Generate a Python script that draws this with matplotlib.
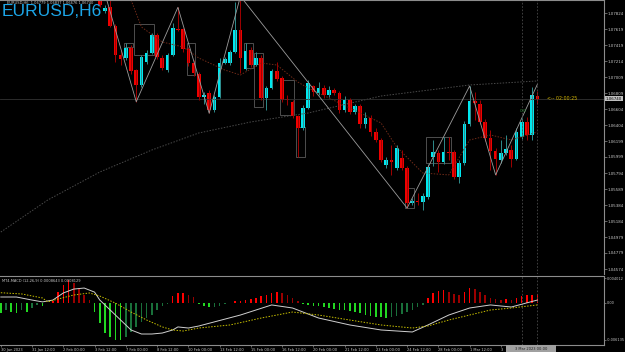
import numpy as np
import matplotlib.pyplot as plt
from matplotlib.patches import Rectangle
import matplotlib.transforms as mtransforms

# ---- data (EURUSD H6) ----
first_bar = 19
opens = [1.08150, 1.07853, 1.07904, 1.07663, 1.07294, 1.07256, 1.07383, 1.07103, 1.06913, 1.07205,
         1.07319, 1.07548, 1.07256, 1.07103, 1.07294, 1.07624, 1.07624, 1.07370, 1.07192, 1.07053,
         1.06761, 1.06811, 1.06595, 1.06761, 1.07192, 1.07192, 1.07332, 1.07612, 1.07116, 1.07358,
         1.07167, 1.07256, 1.06748, 1.06875, 1.07091, 1.07002, 1.06735, 1.06697, 1.06519, 1.06367,
         1.06621, 1.06900, 1.06811, 1.06875, 1.06786, 1.06849, 1.06811, 1.06595, 1.06722, 1.06570,
         1.06646, 1.06417, 1.06493, 1.06316, 1.06214, 1.05897, 1.05960, 1.05858, 1.05985, 1.05858,
         1.05413, 1.05438, 1.05425, 1.05489, 1.05998, 1.06049, 1.05934, 1.06062, 1.06062, 1.05744,
         1.05922, 1.06417, 1.06709, 1.06671, 1.06443, 1.06240, 1.06075, 1.05960, 1.06049, 1.06087,
         1.05973, 1.06252, 1.06443, 1.06278, 1.06779]
highs = [1.08300, 1.07930, 1.08000, 1.07688, 1.07357, 1.07447, 1.07421, 1.07116, 1.07294, 1.07358,
         1.07574, 1.07574, 1.07294, 1.07319, 1.07701, 1.07900, 1.07637, 1.07396, 1.07230, 1.07078,
         1.06824, 1.06849, 1.06786, 1.07256, 1.07269, 1.07358, 1.07970, 1.08040, 1.07447, 1.07396,
         1.07332, 1.07294, 1.06900, 1.07116, 1.07205, 1.07027, 1.06786, 1.06722, 1.06532, 1.06659,
         1.06976, 1.06913, 1.06951, 1.06913, 1.06900, 1.06875, 1.06837, 1.06773, 1.06748, 1.06672,
         1.06672, 1.06570, 1.06532, 1.06367, 1.06240, 1.05998, 1.06151, 1.06151, 1.06087, 1.05883,
         1.05476, 1.05540, 1.05540, 1.05909, 1.06214, 1.06087, 1.06252, 1.06252, 1.06087, 1.05960,
         1.06455, 1.06900, 1.06824, 1.06722, 1.06481, 1.06341, 1.06113, 1.06214, 1.06278, 1.06151,
         1.06367, 1.06494, 1.06506, 1.06888, 1.06837]
lows = [1.07900, 1.07828, 1.07650, 1.07205, 1.07167, 1.07230, 1.07053, 1.06700, 1.06887, 1.07180,
        1.07307, 1.07243, 1.07103, 1.07078, 1.07281, 1.07600, 1.07332, 1.07154, 1.07027, 1.06722,
        1.06672, 1.06553, 1.06570, 1.06748, 1.07180, 1.07167, 1.07320, 1.07065, 1.07103, 1.07142,
        1.07154, 1.06722, 1.06595, 1.06862, 1.06964, 1.06697, 1.06659, 1.06494, 1.05999, 1.06341,
        1.06608, 1.06773, 1.06786, 1.06748, 1.06761, 1.06786, 1.06557, 1.06570, 1.06545, 1.06545,
        1.06367, 1.06367, 1.06265, 1.06189, 1.05935, 1.05858, 1.05770, 1.05833, 1.05833, 1.05349,
        1.05387, 1.05387, 1.05324, 1.05464, 1.05883, 1.05808, 1.05909, 1.05960, 1.05718, 1.05667,
        1.05897, 1.06392, 1.06468, 1.06417, 1.06201, 1.05833, 1.05770, 1.05922, 1.06024, 1.05871,
        1.05960, 1.06227, 1.06214, 1.06214, 1.06676]
closes = [1.07930, 1.07891, 1.07663, 1.07294, 1.07243, 1.07383, 1.07091, 1.06913, 1.07268, 1.07319,
          1.07548, 1.07269, 1.07129, 1.07294, 1.07637, 1.07612, 1.07370, 1.07192, 1.07065, 1.06761,
          1.06786, 1.06595, 1.06761, 1.07192, 1.07243, 1.07332, 1.07612, 1.07256, 1.07345, 1.07167,
          1.07256, 1.06748, 1.06875, 1.07091, 1.06989, 1.06722, 1.06722, 1.06519, 1.06367, 1.06621,
          1.06938, 1.06824, 1.06875, 1.06786, 1.06849, 1.06811, 1.06595, 1.06722, 1.06570, 1.06646,
          1.06417, 1.06493, 1.06316, 1.06214, 1.05960, 1.05960, 1.05935, 1.06113, 1.05858, 1.05413,
          1.05438, 1.05425, 1.05502, 1.05871, 1.06062, 1.05934, 1.06062, 1.06049, 1.05744, 1.05922,
          1.06417, 1.06709, 1.06684, 1.06443, 1.06240, 1.06075, 1.05973, 1.06049, 1.06100, 1.05973,
          1.06316, 1.06443, 1.06278, 1.06786, 1.06740]

# zigzag pivots (bar, price)
zz_bars = [19, 26, 34, 40, 46, 78, 90, 95, 103]
zz_prices = [1.08300, 1.06700, 1.07900, 1.06553, 1.08040, 1.05349, 1.06900, 1.05770, 1.06920]

# moving averages sampled off the chart
ma_mid_bars = [25, 27, 31, 35, 38, 43, 46, 50, 53, 57, 59, 73, 76, 81, 86, 90, 94, 98, 103]
ma_mid = [1.07993, 1.07650, 1.07459, 1.07396, 1.07256, 1.07103, 1.07040, 1.07192, 1.07167, 1.06951,
          1.06875, 1.06430, 1.06125, 1.05795, 1.05770, 1.06214, 1.06278, 1.06214, 1.06316]
ma_long_bars = [0, 9, 19, 29, 38, 48, 59, 73, 90, 103]
ma_long = [1.05044, 1.05451, 1.05807, 1.06087, 1.06303, 1.06443, 1.06557, 1.06773, 1.06913, 1.06964]

# boxes: (first bar, last bar, low, high)
boxes = [(26, 29, 1.07294, 1.07688), (24, 25, 1.07396, 1.07447), (36, 37, 1.07040, 1.07447),
         (47, 48, 1.07129, 1.07447), (49, 50, 1.06634, 1.07320), (54, 56, 1.06532, 1.06976),
         (57, 58, 1.05999, 1.06380), (78, 79, 1.05349, 1.05603), (82, 86, 1.05922, 1.06252)]

# MACD panel
macd_hist = [-0.00172, -0.00123, -0.0015, -0.00177, -0.00123, -0.0015, -0.0009, -0.00041, -0.00057, -0.0001,
             0.0002, 0.00177, 0.00287, 0.00368, 0.0032, 0.00237, 0.00123, 0.0004, -0.0015, -0.00336,
             -0.005, -0.0056, -0.00614, -0.00614, -0.0056, -0.00478, -0.00396, -0.00314, -0.00254, -0.00205,
             -0.00123, -0.0005, -0.00025, 0.0011, 0.0015, 0.0016, 0.0012, 0.0009, -0.0002, -0.0005,
             -0.0008, -0.0007, -0.0005, -0.0003, -0.0001, 0.0002, 0.0003, 0.0004, 0.0006, 0.0008,
             0.0010, 0.0012, 0.0015, 0.0017, 0.0016, 0.0012, 0.0008, 0.0003, -0.0002, -0.0004,
             -0.0005, -0.0006, -0.0008, -0.0009, -0.0010, -0.0012, -0.0013, -0.0014, -0.0016, -0.0018,
             -0.0020, -0.0022, -0.0023, -0.0024, -0.0025, -0.0024, -0.0022, -0.0019, -0.0016, -0.0012,
             -0.0008, -0.0004, 0.0008, 0.0015, 0.0019, 0.0020, 0.0018, 0.0014, 0.0012, 0.0017,
             0.0024, 0.0022, 0.0018, 0.0012, 0.0008, 0.0005, 0.0004, 0.0005, 0.0004, 0.0008,
             0.0011, 0.0012, 0.0013, 0.0014]
main_bars = [0, 3, 6, 8, 10, 12, 14, 16, 18, 19, 21, 23, 25, 27, 29, 31, 33, 34, 36, 38,
             46, 52, 56, 61, 67, 73, 79, 82, 86, 90, 94, 98, 103]
main_line = [0.0009, 0.0009, 0.0004, 0.0001, 0.0004, 0.00156, 0.0022, 0.00237, 0.0017, 0.0004,
             -0.00123, -0.00287, -0.0045, -0.00516, -0.00516, -0.005, -0.0045, -0.004, -0.00418, -0.00385,
             -0.00205, -0.0004, -0.0009, -0.00254, -0.00368, -0.0045, -0.00483, -0.00368, -0.00205, -0.0009,
             -0.0004, -0.00074, 0.0004]
signal_bars = [0, 4, 8, 9, 11, 14, 17, 19, 22, 25, 28, 31, 33, 35, 38, 44, 50, 56, 61, 67,
               73, 79, 82, 86, 90, 94, 98, 103]
signal_line = [0.0016, 0.0014, 0.00074, 0.0001, 0.00057, 0.00123, 0.00156, 0.00106, -0.0001, -0.00156,
               -0.00287, -0.004, -0.0045, -0.00467, -0.00418, -0.00368, -0.00254, -0.00156, -0.00205, -0.00287,
               -0.00368, -0.00418, -0.00385, -0.00287, -0.00205, -0.00123, -0.0009, -0.0004]

price_ticks = [1.07824, 1.07619, 1.07419, 1.07214, 1.07009, 1.06809, 1.06604, 1.06404, 1.06199,
               1.05999, 1.05794, 1.05589, 1.05384, 1.05184, 1.04979, 1.04779, 1.04574]
macd_ticks = [0.004012, 0.0, -0.006135]
macd_tick_labels = ['0.004012', '0.00', '-0.006135']
time_bars = [0, 6, 12, 18, 24, 30, 36, 42, 48, 54, 60, 66, 72, 78, 84, 90, 96]
time_labels = ['30 Jan 2023', '31 Jan 12:00', '2 Feb 00:00', '3 Feb 12:00', '7 Feb 00:00',
               '8 Feb 12:00', '10 Feb 00:00', '13 Feb 12:00', '15 Feb 00:00', '16 Feb 12:00',
               '20 Feb 00:00', '21 Feb 12:00', '23 Feb 00:00', '24 Feb 12:00', '28 Feb 00:00',
               '1 Mar 12:00', '3']
last_price = 1.06740

W, H = 625, 352
fig = plt.figure(figsize=(W / 100, H / 100), dpi=100, facecolor='black')
ax = fig.add_axes([0, (H - 274) / H, 604 / W, 274 / H], facecolor='black')
axm = fig.add_axes([0, 7 / H, 604 / W, 69 / H], facecolor='black')

xlim = (-0.157, 115.8)
grid_col = '#8c8c8c'
txt_col = '#c8c8c8'
small = 2.9

# ---- main price panel ----
bars = np.arange(first_bar, first_bar + len(opens))
o = np.array(opens); c = np.array(closes)
up = c >= o
ax.plot(ma_long_bars, ma_long, color='#4a4a4a', lw=0.7, ls=(0, (1.5, 1.5)))
ax.plot(ma_mid_bars, ma_mid, color='#6e2a18', lw=0.7, ls=(0, (1.5, 1.5)))
for b0, b1, lo, hi in boxes:
    ax.add_patch(Rectangle((b0 - 0.35, lo), b1 - b0 + 0.7, hi - lo, fill=False,
                           edgecolor='#5a5a5a', lw=0.6))
ax.axhline(last_price, color='#333333', lw=0.6)
ax.vlines(bars, lows, highs, colors=np.where(up, '#2f8c8c', '#a00000'), lw=0.7)
ax.bar(bars, np.maximum(np.abs(c - o), 0.00012), bottom=np.minimum(o, c), width=0.7,
       color=np.where(up, '#00e8f0', '#f00000'), linewidth=0)
ax.plot(zz_bars, zz_prices, color='#9c9c9c', lw=0.6)
for b in (100, 103):
    ax.axvline(b, color='#4a4a4a', lw=0.6, ls=(0, (2, 2)))
    axm.axvline(b, color='#4a4a4a', lw=0.6, ls=(0, (2, 2)))

ax.set_xlim(*xlim)
ax.set_ylim(1.04511, 1.07993)
ax.set_xticks([])
ax.yaxis.tick_right()
ax.set_yticks(price_ticks)
ax.set_yticklabels([f'{p:.5f}' for p in price_ticks])
ax.tick_params(axis='y', colors=grid_col, labelcolor=txt_col, labelsize=small, length=2, width=0.5, pad=0.8)
for s in ('left', 'bottom'):
    ax.spines[s].set_visible(False)
for s in ('top', 'right'):
    ax.spines[s].set_color(grid_col)
    ax.spines[s].set_linewidth(0.8)

ax.text(0.003, 0.987, 'EURUSD,H6', transform=ax.transAxes, color='#1ca6e8',
        fontsize=12.5, family='Liberation Sans', va='top', ha='left')
ax.text(7 / 604, 1 - 3 / 274, 'EURUSD,H6  1.06779 1.06837 1.06676 1.06740', transform=ax.transAxes,
        color=txt_col, fontsize=2.6, va='center', ha='left')
ax.text(520 / 604, 1.0658, '0.0', color='#2e8b3a', fontsize=3.2, ha='left', va='center',
        transform=mtransforms.blended_transform_factory(ax.transAxes, ax.transData))
ax.text(547 / 604, last_price, '<-- 02:00:25', color='#d2b400', fontsize=3.4, ha='left', va='center',
        transform=mtransforms.blended_transform_factory(ax.transAxes, ax.transData))
ax.text(1.003, last_price, '1.06740', color='black', fontsize=small, ha='left', va='center',
        transform=mtransforms.blended_transform_factory(ax.transAxes, ax.transData),
        bbox=dict(boxstyle='square,pad=0.2', fc='#c0c0c0', ec='none'), clip_on=False)

# ---- MACD panel ----
hist = np.array(macd_hist)
prev = np.concatenate([[hist[0]], hist[:-1]])
hcols = np.where(hist >= 0, np.where(hist >= prev, '#ff0000', '#9a0000'),
                 np.where(hist <= prev, '#22d822', '#19703a'))
hx = np.arange(len(hist))
axm.bar(hx, hist, width=0.3, color=hcols, linewidth=0)
axm.plot(main_bars, main_line, color='#d0d0d0', lw=0.7)
axm.plot(signal_bars, signal_line, color='#c8c000', lw=0.7, ls=(0, (1.5, 1.5)))
axm.set_xlim(*xlim)
axm.set_ylim(-0.00696, 0.00434)
axm.yaxis.tick_right()
axm.set_yticks(macd_ticks)
axm.set_yticklabels(macd_tick_labels)
axm.tick_params(axis='y', colors=grid_col, labelcolor=txt_col, labelsize=2.5, length=1.5, width=0.5, pad=0.6)
axm.set_xticks(time_bars)
axm.set_xticklabels(time_labels)
axm.tick_params(axis='x', colors=grid_col, labelcolor=txt_col, labelsize=2.6, length=1.5, width=0.5, pad=0.8)
for lab in axm.get_xticklabels():
    lab.set_ha('left')
axm.spines['left'].set_visible(False)
for s in ('top', 'right', 'bottom'):
    axm.spines[s].set_color(grid_col)
    axm.spines[s].set_linewidth(0.8)
axm.text(2 / 604, 0.93, 'MT4-MACD (12,26,9) 0.0008643 0.0008129', transform=axm.transAxes,
         color=txt_col, fontsize=2.6, va='center', ha='left')

# highlighted time box at the bottom
fig.patches.append(Rectangle((506 / W, 0), 50 / W, 7 / H, transform=fig.transFigure,
                             facecolor='#a0a0a0', edgecolor='none'))
fig.text(531 / W, 3.3 / H, '3 Mar 2023 00:00', color='#202020', fontsize=2.6, ha='center', va='center')

fig.savefig('out.png', dpi=100, facecolor='black')
